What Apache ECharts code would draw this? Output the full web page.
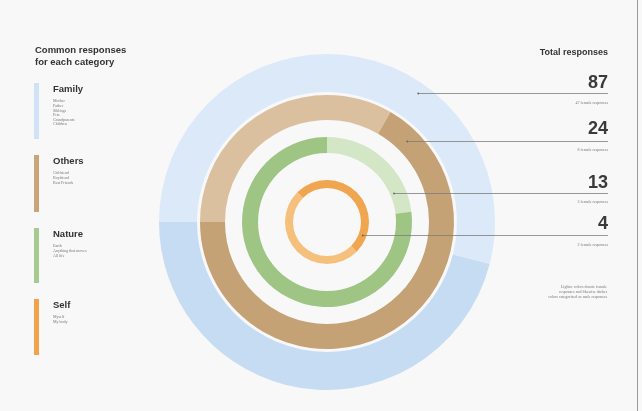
<!DOCTYPE html>
<html>
<head>
<meta charset="utf-8">
<script src="https://cdn.jsdelivr.net/npm/echarts@6/dist/echarts.min.js"></script>
<style>
  html, body { margin: 0; padding: 0; background: #f8f8f8; }
  #chart { width: 642px; height: 411px; }
</style>
</head>
<body>
<div id="chart"></div>
<script>
// Categories, from the outer ring to the inner one
const categories = ['Family', 'Others', 'Nature', 'Self'];
const totalResponses = [87, 24, 13, 4];
const femaleResponses = [47, 8, 3, 2];
const categoryExamples = [
  ['Mother', 'Father', 'Siblings', 'Pets', 'Grandparents', 'Children'],
  ['Girlfriend', 'Boyfriend', 'Best Friends'],
  ['Earth', 'Anything that moves', 'All life'],
  ['Myself', 'My body']
];
const noteLines = [
  'Lighter colors denote female',
  'responses and likewise darker',
  'colors categorized as male responses'
];

// Styling per ring
const lightColors = ['#dce9f8', '#dac09e', '#d3e6c6', '#f5c07c'];
const darkColors = ['#c6dcf3', '#c5a275', '#9ec584', '#f0a54f'];
const barColors = ['#cfe2f6', '#c9a57a', '#a6ca8f', '#f0a34a'];
const ringRadii = [[130, 168], [102, 127], [69, 85], [34, 42]];
const leaderRadius = [158, 114, 73, 38];
const ringStart = [180, 180, 90, -45];
const center = [327, 222];

const series = categories.map((name, i) => ({
  type: 'pie',
  name: name,
  center: center,
  radius: ringRadii[i],
  startAngle: ringStart[i],
  clockwise: true,
  silent: true,
  z: 1,
  label: { show: false },
  labelLine: { show: false },
  emphasis: { disabled: true },
  itemStyle: { borderWidth: 0 },
  data: [
    { name: 'female', value: femaleResponses[i], itemStyle: { color: lightColors[i] } },
    { name: 'male', value: totalResponses[i] - femaleResponses[i], itemStyle: { color: darkColors[i] } }
  ]
}));

const graphics = [];
const fontFamily = 'Liberation Sans, Arial, sans-serif';

// page frame
graphics.push({ type: 'line', shape: { x1: 637.5, y1: 0, x2: 637.5, y2: 411 }, style: { stroke: '#9a9a9a', lineWidth: 1 }, silent: true });

// headings
graphics.push({ type: 'text', left: 35, top: 45, style: { text: 'Common responses\nfor each category', font: 'bold 9.5px ' + fontFamily, fill: '#333', lineHeight: 11.5 } });
graphics.push({ type: 'text', style: { x: 608, y: 53, text: 'Total responses', font: 'bold 9px ' + fontFamily, fill: '#333', align: 'right', verticalAlign: 'middle' } });

// legend blocks on the left
const barTops = [83, 155, 228, 299];
const barHeights = [56, 57, 55, 56];
categories.forEach((name, i) => {
  const y = barTops[i];
  graphics.push({ type: 'rect', shape: { x: 34, y: y, width: 5, height: barHeights[i] }, style: { fill: barColors[i] } });
  graphics.push({ type: 'text', style: { x: 53, y: y + 6, text: name, font: 'bold 9.5px ' + fontFamily, fill: '#333', verticalAlign: 'middle' } });
  graphics.push({ type: 'text', style: { x: 53, y: y + 16, text: categoryExamples[i].join('\n'), font: '4px Liberation Serif, serif', fill: '#777', lineHeight: 4.6, verticalAlign: 'top' } });
});

// totals with leader lines reaching into each ring
const leaderY = [93, 141, 193, 235];
const numberY = [83, 129, 183, 224];
const subY = [103, 150, 202, 245];
categories.forEach((name, i) => {
  const r = leaderRadius[i];
  const dy = leaderY[i] - center[1];
  const dx = Math.sqrt(Math.max(r * r - dy * dy, 0));
  const x0 = center[0] + dx;
  graphics.push({ type: 'line', shape: { x1: x0, y1: leaderY[i] + 0.5, x2: 608, y2: leaderY[i] + 0.5 }, style: { stroke: '#7d7d7d', lineWidth: 0.8 }, silent: true });
  graphics.push({ type: 'circle', shape: { cx: x0, cy: leaderY[i] + 0.5, r: 0.9 }, style: { fill: '#666' } });
  graphics.push({ type: 'text', style: { x: 608, y: numberY[i], text: String(totalResponses[i]), font: 'bold 18px ' + fontFamily, fill: '#3a3a3a', align: 'right', verticalAlign: 'middle' } });
  graphics.push({ type: 'text', style: { x: 608, y: subY[i], text: femaleResponses[i] + ' female responses', font: '4px Liberation Serif, serif', fill: '#777', align: 'right', verticalAlign: 'middle' } });
});

// note
graphics.push({ type: 'text', style: { x: 607, y: 284, text: noteLines.join('\n'), font: '4px Liberation Serif, serif', fill: '#777', align: 'right', verticalAlign: 'top', lineHeight: 5 } });

graphics.forEach(g => { g.z = 100; });

const chart = echarts.init(document.getElementById('chart'), null, { renderer: 'canvas' });
chart.setOption({
  backgroundColor: '#f8f8f8',
  animation: false,
  series: series,
  graphic: graphics
});
</script>
</body>
</html>
